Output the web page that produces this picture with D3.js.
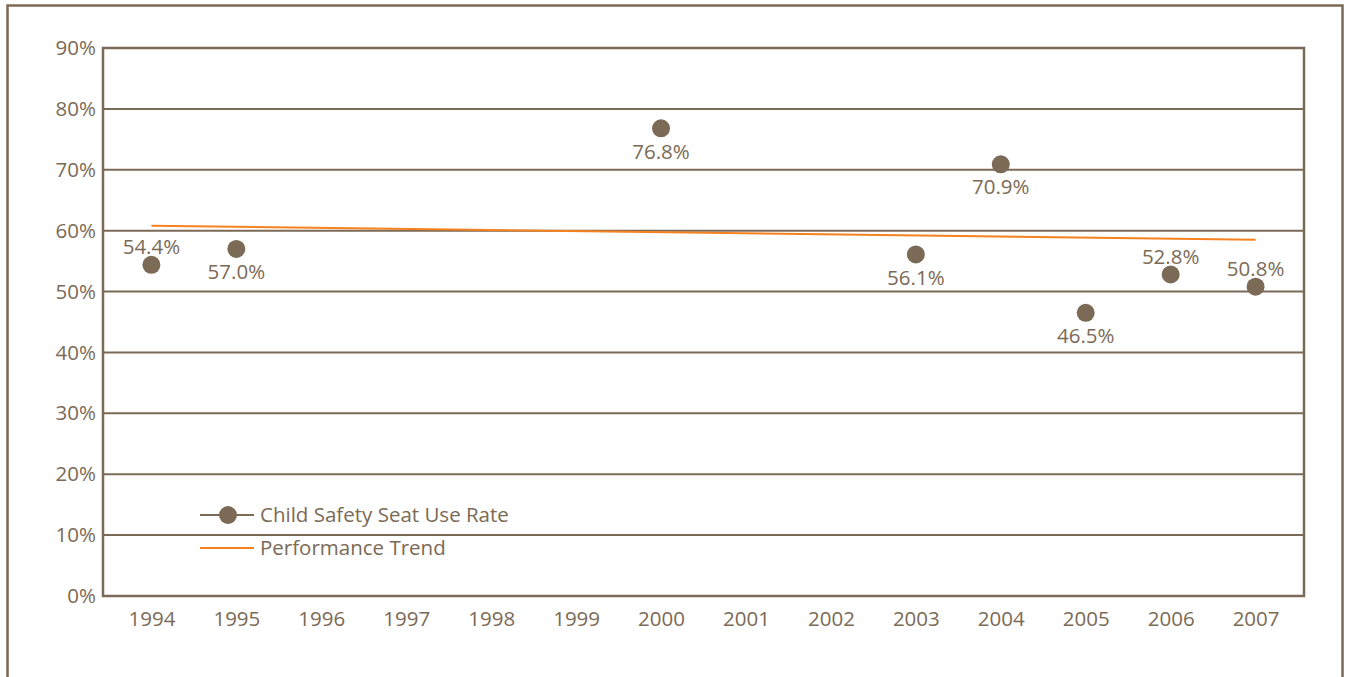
<!DOCTYPE html>
<html>
<head>
<meta charset="utf-8">
<script src="https://cdn.jsdelivr.net/npm/d3@7"></script>
<style>
  body { margin: 0; background: #fff; }
  svg text { font-family: "Open Sans", "Noto Sans", sans-serif; font-weight: 500; fill: #7b6a56; }
</style>
</head>
<body>
<svg id="chart" width="1348" height="677"></svg>
<script>
// chart data
var years = ["1994","1995","1996","1997","1998","1999","2000","2001","2002","2003","2004","2005","2006","2007"];
var yTicks = [0, 10, 20, 30, 40, 50, 60, 70, 80, 90];
var rateYears = ["1994","1995","2000","2003","2004","2005","2006","2007"];
var rateValues = [54.4, 57.0, 76.8, 56.1, 70.9, 46.5, 52.8, 50.8];
var labelAbove = [true, false, false, false, false, false, true, true];
var trendYears = ["1994","2007"];
var trendValues = [60.8, 58.5];

var brown = "#7b6a56", orange = "#f5821f";
var fontSize = 20.5;

var svg = d3.select("#chart");
var plotLeft = 103, plotRight = 1304, plotTop = 48, plotBottom = 596;

// outer frame
svg.append("rect")
  .attr("x", 7.5).attr("y", 5.5)
  .attr("width", 1335).attr("height", 720)
  .attr("fill", "none").attr("stroke", brown).attr("stroke-width", 2.5);

var x = d3.scalePoint().domain(years).range([plotLeft, plotRight]).padding(0.57);
var y = d3.scaleLinear().domain([0, 90]).range([plotBottom, plotTop]);

// gridlines
svg.append("g").selectAll("line")
  .data(yTicks).enter().append("line")
  .attr("x1", plotLeft).attr("x2", plotRight)
  .attr("y1", function(d) { return y(d); })
  .attr("y2", function(d) { return y(d); })
  .attr("stroke", brown).attr("stroke-width", 2);

// plot frame
svg.append("rect")
  .attr("x", plotLeft).attr("y", plotTop)
  .attr("width", plotRight - plotLeft).attr("height", plotBottom - plotTop)
  .attr("fill", "none").attr("stroke", brown).attr("stroke-width", 2.5);

// y axis labels
var yAxis = svg.append("g")
  .attr("transform", "translate(" + plotLeft + ",0)")
  .call(d3.axisLeft(y).tickValues(yTicks).tickSize(0).tickPadding(7)
        .tickFormat(function(d) { return d + "%"; }));
yAxis.select(".domain").remove();
yAxis.selectAll("text").attr("font-size", fontSize).attr("fill", brown)
  .attr("font-family", null);

// x axis labels
var xAxis = svg.append("g")
  .attr("transform", "translate(0," + plotBottom + ")")
  .call(d3.axisBottom(x).tickSize(0).tickPadding(15));
xAxis.select(".domain").remove();
xAxis.selectAll("text").attr("font-size", fontSize).attr("fill", brown)
  .attr("font-family", null);

// trend line
svg.append("path")
  .datum(trendYears.map(function(d, i) { return [d, trendValues[i]]; }))
  .attr("d", d3.line()
    .x(function(d) { return x(d[0]); })
    .y(function(d) { return y(d[1]); }))
  .attr("fill", "none").attr("stroke", orange).attr("stroke-width", 2);

// points
var pts = rateYears.map(function(d, i) {
  return { year: d, value: rateValues[i], above: labelAbove[i] };
});

svg.append("g").selectAll("circle")
  .data(pts).enter().append("circle")
  .attr("cx", function(d) { return x(d.year); })
  .attr("cy", function(d) { return y(d.value); })
  .attr("r", 9)
  .attr("fill", brown);

svg.append("g").selectAll("text")
  .data(pts).enter().append("text")
  .attr("x", function(d) { return x(d.year); })
  .attr("y", function(d) { return y(d.value) + (d.above ? -18 : 23); })
  .attr("dy", "0.35em")
  .attr("text-anchor", "middle")
  .attr("font-size", fontSize)
  .text(function(d) { return d.value.toFixed(1) + "%"; });

// legend
var legend = svg.append("g").attr("transform", "translate(200,515)");
legend.append("line").attr("x1", 0).attr("x2", 54).attr("y1", 0).attr("y2", 0)
  .attr("stroke", brown).attr("stroke-width", 2);
legend.append("circle").attr("cx", 28).attr("cy", 0).attr("r", 9).attr("fill", brown);
legend.append("text").attr("x", 60).attr("y", 0).attr("dy", "0.35em")
  .attr("font-size", fontSize).text("Child Safety Seat Use Rate");
legend.append("line").attr("x1", 0).attr("x2", 54).attr("y1", 33).attr("y2", 33)
  .attr("stroke", orange).attr("stroke-width", 2);
legend.append("text").attr("x", 60).attr("y", 33).attr("dy", "0.35em")
  .attr("font-size", fontSize).text("Performance Trend");
</script>
</body>
</html>
